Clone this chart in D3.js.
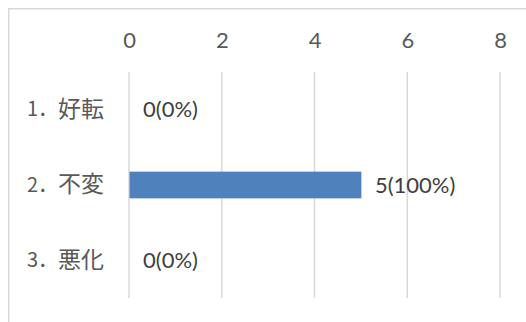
<!DOCTYPE html>
<html>
<head>
<meta charset="utf-8">
<script src="https://cdn.jsdelivr.net/npm/d3@7"></script>
<style>
  html, body { margin: 0; padding: 0; background: #ffffff; }
  svg { display: block; }
</style>
</head>
<body>
<svg id="chart" width="526" height="322"></svg>
<script>
// Survey answers and their counts
const categories = ["1．好転", "2．不変", "3．悪化"];
const counts = [0, 5, 0];
const valueLabels = ["0(0%)", "5(100%)", "0(0%)"];
const ticks = [0, 2, 4, 6, 8];

const svg = d3.select("#chart");

// Chart frame (runs off the right and bottom edges)
svg.append("rect")
  .attr("x", 8.75).attr("y", 8.75)
  .attr("width", 600).attr("height", 400)
  .attr("fill", "#ffffff")
  .attr("stroke", "#d9d9d9")
  .attr("stroke-width", 1.5);

const x = d3.scaleLinear().domain([0, 8]).range([129, 500]);
const y = d3.scaleBand().domain(categories).range([72, 298]).padding(0);
const barH = y.bandwidth() * 0.355;

// Vertical gridlines
svg.append("g")
  .selectAll("line")
  .data(ticks)
  .join("line")
  .attr("x1", d => x(d)).attr("x2", d => x(d))
  .attr("y1", 72).attr("y2", 298)
  .attr("stroke", "#d9d9d9")
  .attr("stroke-width", 1.5);

// Top axis labels
const axis = d3.axisTop(x).tickValues(ticks).tickSize(0).tickPadding(0);
const gAxis = svg.append("g")
  .attr("transform", "translate(0,48)")
  .call(axis);
gAxis.select(".domain").remove();
gAxis.selectAll("text")
  .attr("dy", 0)
  .attr("font-family", "Lato, 'Open Sans', sans-serif")
  .attr("font-size", 22)
  .attr("fill", "#595959");

// Bars
svg.append("g")
  .selectAll("rect")
  .data(categories)
  .join("rect")
  .attr("x", x(0) + 0.5)
  .attr("y", d => y(d) + y.bandwidth() / 2 - barH / 2)
  .attr("width", (d, i) => Math.max(0, x(counts[i]) - x(0)))
  .attr("height", barH)
  .attr("fill", "#4f81bd");

// Category labels: number prefix and wider kanji part
const catText = svg.append("g")
  .selectAll("text")
  .data(categories)
  .join("text")
  .attr("y", d => y(d) + y.bandwidth() / 2)
  .attr("font-family", "'Noto Sans CJK JP', sans-serif")
  .attr("fill", "#595959");
catText.append("tspan")
  .attr("x", 27)
  .attr("dy", "0.33em")
  .attr("font-size", 20)
  .text(d => d.split("．")[0] + "．");
catText.append("tspan")
  .attr("x", 58)
  .attr("font-size", 23)
  .attr("dy", "0.03em")
  .text(d => d.split("．")[1]);

// Value labels
svg.append("g")
  .selectAll("text")
  .data(categories)
  .join("text")
  .attr("x", (d, i) => x(counts[i]) + 14)
  .attr("y", d => y(d) + y.bandwidth() / 2)
  .attr("dy", "0.35em")
  .attr("font-family", "Lato, 'Open Sans', sans-serif")
  .attr("font-size", 22)
  .attr("fill", "#404040")
  .text((d, i) => valueLabels[i]);
</script>
</body>
</html>
